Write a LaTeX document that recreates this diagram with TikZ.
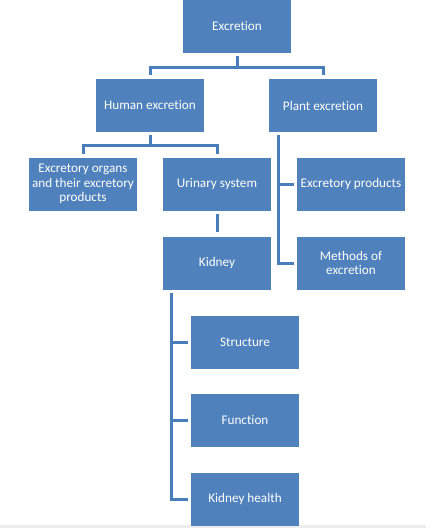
\documentclass[tikz,border=0pt]{standalone}
\usepackage{fontspec}
\setmainfont{Carlito}[Ligatures=NoCommon]
\usepackage{xcolor}
\definecolor{boxblue}{HTML}{4F81BD}
\definecolor{lineblue}{HTML}{4A7EBB}

\begin{document}
\begin{tikzpicture}[x=1pt,y=-1pt,
  box/.style={fill=boxblue,text=white,minimum width=108pt,minimum height=53pt,
    inner sep=1pt,align=center,font=\fontsize{13.2}{14.5}\selectfont},
  link/.style={draw=lineblue,line width=3pt}]
\useasboundingbox (0,0) rectangle (426,528);
\fill[gray!15] (0,525) rectangle (426,528);

\node[box] (excr) at (237,26.5) {Excretion};

\node[box] (human) at (150,105.5) {Human excretion};
\node[box] (plant) at (323,105.5) {Plant excretion};

\node[box] (organs) at (83,184) {Excretory organs\\and their excretory\\products};
\node[box] (urinary) at (217,184) {Urinary system};
\node[box] (products) at (351,184) {Excretory products};

\node[box] (kidney) at (217,263) {Kidney};
\node[box] (methods) at (351,263) {Methods of\\excretion};

\node[box] (structure) at (245,342) {Structure};
\node[box] (function) at (245,420.5) {Function};
\node[box] (health) at (245,499) {Kidney health};

% Connectors
\coordinate (topbus) at (237,67);
\coordinate (hbus) at (150,145);
\coordinate (pspine) at ([shift={(10pt,-3pt)}]plant.south west);
\coordinate (kspine) at ([shift={(9pt,-3pt)}]kidney.south west);

\draw[link] ([yshift=-3pt]excr.south) -- (topbus);
\draw[link] ([yshift=4pt]human.north) |- (topbus) -| ([yshift=4pt]plant.north);

\draw[link] ([yshift=-3pt]human.south) -- (hbus);
\draw[link] ([yshift=3pt]organs.north) |- (hbus) -| ([yshift=3pt]urinary.north);

\draw[link] (pspine) |- ([xshift=-3pt]methods.west);
\draw[link] (pspine |- products.west) -- ([xshift=-3pt]products.west);

\draw[link] ([yshift=-3pt]urinary.south) -- ([yshift=4pt]kidney.north);

\draw[link] (kspine) |- ([xshift=-3pt]health.west);
\draw[link] (kspine |- structure.west) -- ([xshift=-3pt]structure.west);
\draw[link] (kspine |- function.west) -- ([xshift=-3pt]function.west);
\end{tikzpicture}
\end{document}
